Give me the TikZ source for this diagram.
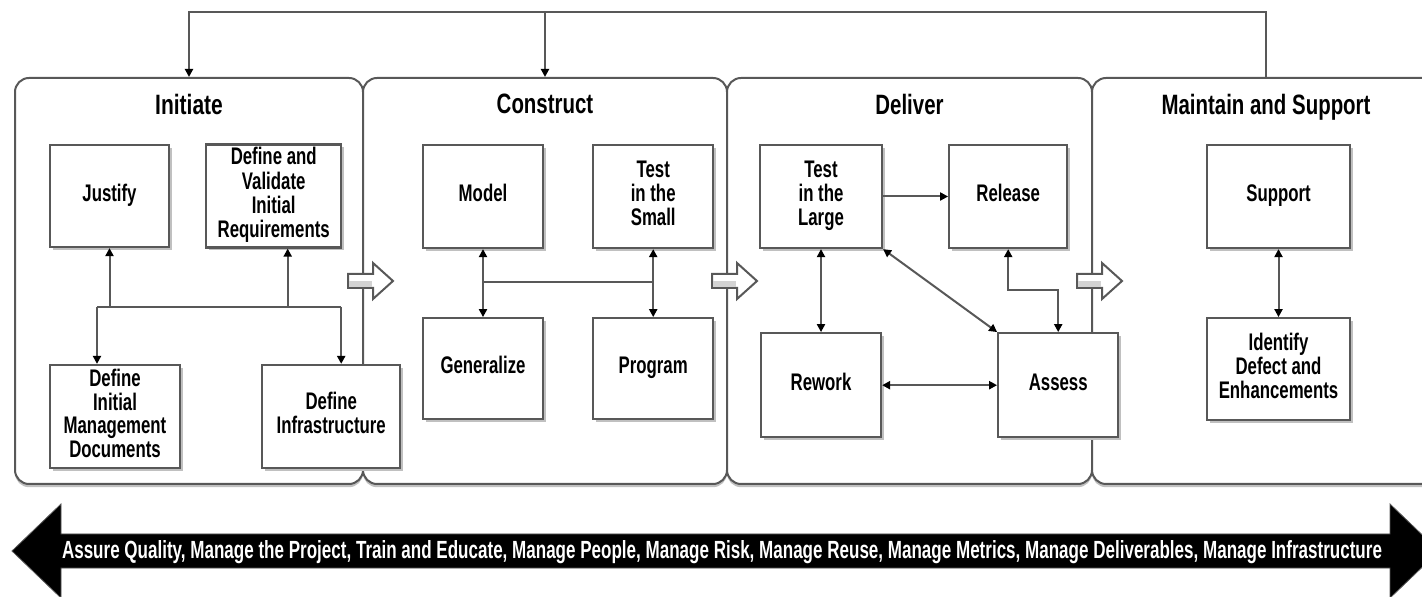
\documentclass[tikz,border=0pt]{standalone}
\usepackage{fontspec}
\setmainfont{Liberation Sans}
\usetikzlibrary{arrows.meta,positioning,shadows}
\definecolor{linegray}{RGB}{88,88,88}
\definecolor{shadegray}{RGB}{192,192,192}
\newcommand{\sqz}[1]{\scalebox{.70}[1]{\begin{tabular}{@{}c@{}}#1\end{tabular}}}

\begin{document}
\begin{tikzpicture}[x=0.5pt,y=-0.5pt, node distance=34pt, >={Triangle[length=4pt,width=4pt,color=black]},
  every node/.style={font=\bfseries\fontsize{12}{11.4}\selectfont,align=center},
  phase/.style={draw=linegray,line width=1pt,fill=white,rounded corners=7pt,minimum height=203pt,
    drop shadow={shadow xshift=0pt,shadow yshift=-1.6pt,fill=shadegray,opacity=1}},
  task/.style={draw=linegray,line width=1.1pt,fill=white,minimum width=60pt,minimum height=51.5pt,inner sep=1pt,
    drop shadow={shadow xshift=1.5pt,shadow yshift=-1.5pt,fill=shadegray,opacity=1}},
  ttl/.style={font=\bfseries\fontsize{14}{16}\selectfont},
  conn/.style={draw=linegray,line width=1pt},
  hollow/.style={draw=linegray,line width=1pt,fill=white}]
\useasboundingbox (0,0) rectangle (1422,597);
\clip (0,0) rectangle (1422,597);

% phases
\node[phase,minimum width=174pt] (init) at (189,281) {};
\node[phase,minimum width=182pt] (cons) at (545,281) {};
\node[phase,minimum width=182.5pt] (deliv) at (909.5,281) {};
\node[phase,minimum width=174pt] (maint) at (1266,281) {};
\node[ttl,below=5pt of init.north] (initT) {\scalebox{.75}[1]{Initiate}};
\node[ttl,below=5pt of cons.north] (consT) {\scalebox{.73}[1]{Construct}};
\node[ttl,below=5pt of deliv.north] (delivT) {\scalebox{.73}[1]{Deliver}};
\node[ttl,below=5pt of maint.north] (maintT) {\scalebox{.73}[1]{Maintain and Support}};

% feedback loop over the top
\coordinate (loop) at (0,12);
\draw[conn,->] (maint.north) -- (maint.north |- loop) -| (init.north);
\draw[conn,->] (cons.north |- loop) -- (cons.north);

% Initiate
\node[task,minimum width=59.5pt,minimum height=51pt] (just) at (109.5,196) {\sqz{Justify}};
\node[task,minimum width=67.5pt,right=17.5pt of just] (defval) {\sqz{Define and\\Validate\\Initial\\Requirements}};
\node[task,minimum width=65pt] (defmgmt) at (115,416.5) {\sqz{Define\\Initial\\Management\\Documents}};
\node[task,minimum width=69pt,right=40pt of defmgmt] (definfra) {\sqz{Define\\Infrastructure}};
\coordinate (ijoin) at (0,307);
\coordinate (valout) at ([xshift=7pt]defval.south);
\coordinate (mgmtin) at ([xshift=-9pt]defmgmt.north);
\coordinate (infrain) at ([xshift=5pt]definfra.north);
\draw[conn] (mgmtin |- ijoin) -- (infrain |- ijoin);
\draw[conn,<-] (just.south) -- (just.south |- ijoin);
\draw[conn,<-] (valout) -- (valout |- ijoin);
\draw[conn,->] (mgmtin |- ijoin) -- (mgmtin);
\draw[conn,->] (infrain |- ijoin) -- (infrain);

% Construct
\node[task] (model) at (483,196.5) {\sqz{Model}};
\node[task,right=24pt of model] (testsm) {\sqz{Test\\in the\\Small}};
\node[task,minimum height=50.5pt,below=of model] (gener) {\sqz{Generalize}};
\node[task,minimum height=50.5pt,below=of testsm] (prog) {\sqz{Program}};
\coordinate (cjoin) at (0,282);
\draw[conn,<->] (model.south) -- (model.south |- gener.north);
\draw[conn,<->] (testsm.south) -- (testsm.south |- prog.north);
\draw[conn] (model.south |- cjoin) -- (testsm.south |- cjoin);

% Deliver
\node[task,minimum width=61pt] (testlg) at (821,196.5) {\sqz{Test\\in the\\Large}};
\node[task,minimum width=59pt,right=32.5pt of testlg] (release) {\sqz{Release}};
\node[task,minimum height=52pt,below=41.5pt of testlg] (rework) {\sqz{Rework}};
\node[task,minimum height=52pt,right=57.5pt of rework] (assess) {\sqz{Assess}};
\coordinate (djoin) at (0,290);
\draw[conn,->] (testlg) -- (release);
\draw[conn,<->] (testlg.south) -- (testlg.south |- rework.north);
\draw[conn,<->] (testlg.south east) -- (assess.north west);
\draw[conn,<->] (release.south) -- (release.south |- djoin) -| (assess.north);
\draw[conn,<->] (rework) -- (assess);

% Maintain and Support
\node[task,minimum width=71.5pt] (support) at (1278.5,196.5) {\sqz{Support}};
\node[task,minimum width=71.5pt,minimum height=51pt,below=of support] (identify) {\sqz{Identify\\Defect and\\Enhancements}};
\draw[conn,<->] (support) -- (identify);

% hollow arrows between phases
\foreach \p in {init,cons,deliv}{
  \draw[hollow] ([xshift=-8pt,yshift=3.5pt]\p.east) -- ++(12.5pt,0) -- ++(0,5.5pt) -- ++(10pt,-9pt)
    -- ++(-10pt,-9pt) -- ++(0,5.5pt) -- ++(-12.5pt,0) -- cycle;
  \fill[shadegray!70] ([xshift=-7.5pt,yshift=-3pt]\p.east) rectangle ([xshift=4pt]\p.east);
}

% ongoing activities
\filldraw[fill=black,draw=linegray] (12,551) -- (61,504) -- (61,534) -- (1390,534) -- (1390,504) -- (1439,551)
  -- (1390,598) -- (1390,568) -- (61,568) -- (61,598) -- cycle;
\node[text=white,inner sep=0pt] (duties) at (722,552) {\resizebox{660pt}{9pt}{Assure Quality, Manage the Project, Train and Educate, Manage People, Manage Risk, Manage Reuse, Manage Metrics, Manage Deliverables, Manage Infrastructure}};
\end{tikzpicture}
\end{document}
